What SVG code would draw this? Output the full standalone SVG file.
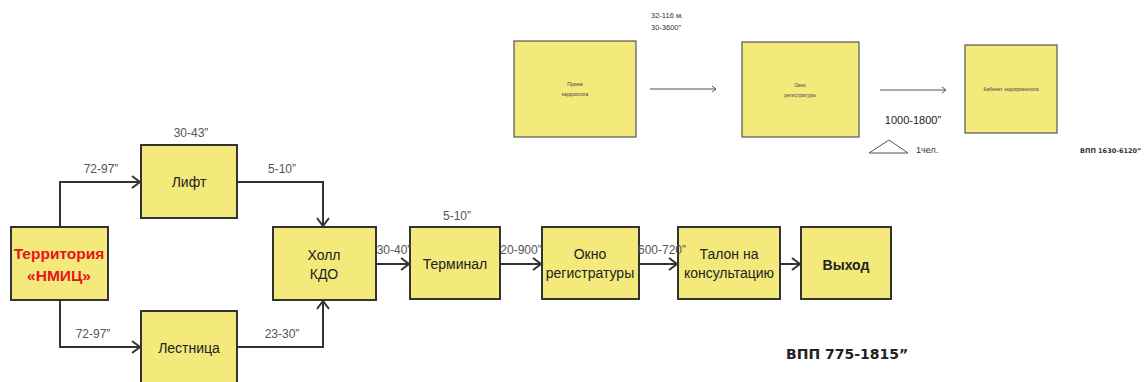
<svg xmlns="http://www.w3.org/2000/svg" width="1146" height="382" viewBox="0 0 1146 382">
<style>
.box{fill:#F4E97B;stroke:#333;stroke-width:2}
.sbox{fill:#F4E97B;stroke:#555;stroke-width:1.2}
.t{font-family:"Liberation Sans",Arial,sans-serif;font-size:14px;fill:#222;text-anchor:middle;dominant-baseline:central}
.lbl{font-family:"Liberation Sans",Arial,sans-serif;font-size:12px;fill:#555;text-anchor:middle;dominant-baseline:central}
.red{font-family:"Liberation Sans",Arial,sans-serif;font-size:15.5px;font-weight:bold;fill:#E8141B;text-anchor:middle;dominant-baseline:central}
.tiny{font-family:"Liberation Sans",Arial,sans-serif;font-size:5px;fill:#444;text-anchor:middle;dominant-baseline:central}
.conn{fill:none;stroke:#333;stroke-width:2}
.thin{fill:none;stroke:#555;stroke-width:1.2}
</style>
<defs>
<marker id="ah" markerUnits="userSpaceOnUse" markerWidth="12" markerHeight="14" refX="10" refY="7" orient="auto">
<path d="M2,1 L10,7 L2,13" fill="none" stroke="#333" stroke-width="2"/>
</marker>
<marker id="ahs" markerUnits="userSpaceOnUse" markerWidth="8" markerHeight="8" refX="7" refY="4" orient="auto">
<path d="M3,1 L7,4 L3,7" fill="none" stroke="#555" stroke-width="1"/>
</marker>
</defs>
<rect width="1146" height="382" fill="#fff"/>

<g id="connectors">
<path class="conn" d="M60,227 V182 H140" marker-end="url(#ah)"/>
<path class="conn" d="M60,300 V347 H140" marker-end="url(#ah)"/>
<path class="conn" d="M237,182 H323 V226" marker-end="url(#ah)"/>
<path class="conn" d="M237,347 H323 V301" marker-end="url(#ah)"/>
<path class="conn" d="M376,264 H409" marker-end="url(#ah)"/>
<path class="conn" d="M500,264 H541" marker-end="url(#ah)"/>
<path class="conn" d="M639,264 H677" marker-end="url(#ah)"/>
<path class="conn" d="M780,264 H800" marker-end="url(#ah)"/>
<path class="thin" d="M650,89 H716" marker-end="url(#ahs)"/>
<path class="thin" d="M880,90 H946" stroke="#888" marker-end="url(#ahs)"/>
</g>

<g id="territory">
<rect class="box" x="11" y="227" width="97" height="73"/>
<text class="red" x="59" y="253">Территория</text>
<text class="red" x="59" y="275">«НМИЦ»</text>
</g>
<g id="lift">
<rect class="box" x="141" y="145" width="96" height="73"/>
<text class="t" x="189" y="182">Лифт</text>
</g>
<g id="stairs">
<rect class="box" x="141" y="311" width="96" height="80"/>
<text class="t" x="189" y="348">Лестница</text>
</g>
<g id="hall">
<rect class="box" x="273" y="227" width="103" height="73"/>
<text class="t" x="324" y="255">Холл</text>
<text class="t" x="324" y="274">КДО</text>
</g>
<g id="terminal">
<rect class="box" x="410" y="227" width="90" height="72"/>
<text class="t" x="455" y="264">Терминал</text>
</g>
<g id="window">
<rect class="box" x="542" y="227" width="97" height="72"/>
<text class="t" x="590" y="254">Окно</text>
<text class="t" x="590" y="273">регистратуры</text>
</g>
<g id="ticket">
<rect class="box" x="678" y="227" width="102" height="72"/>
<text class="t" x="729" y="254">Талон на</text>
<text class="t" x="729" y="273">консультацию</text>
</g>
<g id="exit">
<rect class="box" x="801" y="227" width="90" height="72"/>
<text class="t" x="846" y="265" font-weight="bold" font-size="15">Выход</text>
</g>

<g id="cardio">
<rect class="sbox" x="514" y="41" width="122" height="96"/>
<text class="tiny" x="575" y="84">Прием</text>
<text class="tiny" x="575" y="94">кардиолога</text>
</g>
<g id="window2">
<rect class="sbox" x="742" y="42" width="117" height="95"/>
<text class="tiny" x="800" y="85">Окно</text>
<text class="tiny" x="800" y="95">регистратуры</text>
</g>
<g id="endo">
<rect class="sbox" x="965" y="45" width="92" height="88"/>
<text class="tiny" x="1011" y="89">Кабинет эндокринолога</text>
</g>

<g id="labels">
<text class="lbl" x="191" y="133">30-43”</text>
<text class="lbl" x="101" y="169">72-97”</text>
<text class="lbl" x="282" y="169">5-10”</text>
<text class="lbl" x="93" y="334">72-97”</text>
<text class="lbl" x="282" y="334">23-30”</text>
<text class="lbl" x="394" y="250">30-40”</text>
<text class="lbl" x="457" y="216">5-10”</text>
<text class="lbl" x="521" y="250">20-900”</text>
<text class="lbl" x="662" y="250">600-720”</text>
<text x="786" y="354" font-family="'DejaVu Sans',Verdana,sans-serif" font-size="14" font-weight="bold" fill="#222" dominant-baseline="central">ВПП 775-1815”</text>
<text x="651" y="15" font-family="'Liberation Sans',Arial,sans-serif" font-size="7.5" fill="#333" dominant-baseline="central">32-116 м.</text>
<text x="651" y="27" font-family="'Liberation Sans',Arial,sans-serif" font-size="7.5" fill="#333" dominant-baseline="central">30-3600”</text>
<text x="913" y="120" font-family="'Liberation Sans',Arial,sans-serif" font-size="11" fill="#222" text-anchor="middle" dominant-baseline="central">1000-1800”</text>
<text x="916" y="150" font-family="'Liberation Sans',Arial,sans-serif" font-size="9" fill="#333" dominant-baseline="central">1чел.</text>
<text x="1080" y="151" font-family="'DejaVu Sans',Verdana,sans-serif" font-size="6.5" font-weight="bold" fill="#333" dominant-baseline="central">ВПП 1630-6120”</text>
<polygon points="869,153 908,153 889,140" fill="none" stroke="#555" stroke-width="1"/>
</g>
</svg>
